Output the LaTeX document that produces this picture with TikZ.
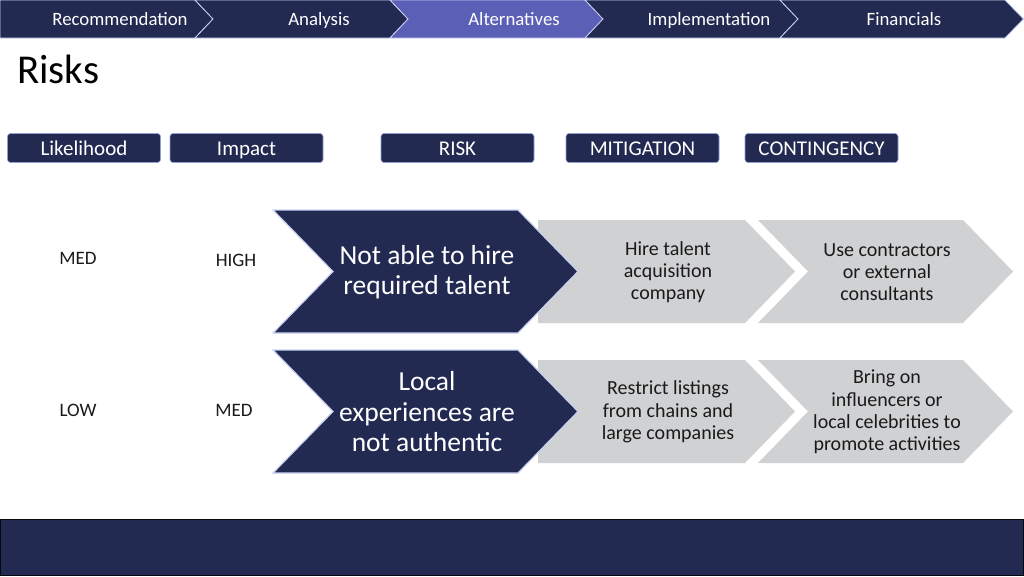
\documentclass[tikz,border=0pt]{standalone}
\usepackage{fontspec}
\setmainfont{Carlito}
\definecolor{navy}{HTML}{232A52}
\definecolor{hilite}{HTML}{5B5FB5}
\definecolor{chgray}{HTML}{D0D1D3}
\definecolor{edgeblue}{HTML}{C9D2F2}
\definecolor{boxedge}{HTML}{8FA0D2}
\definecolor{txt}{HTML}{1A1A1A}
\tikzset{
  tab/.style={fill=navy, draw=edgeblue, line width=0.8pt, line join=miter},
  tabon/.style={fill=hilite, draw=edgeblue, line width=0.8pt},
  tabtxt/.style={text=white, font=\fontsize{18.8}{22}\selectfont, anchor=center, text height=12pt, text depth=3pt, inner sep=0pt},
  hdr/.style={fill=navy, draw=boxedge, line width=0.6pt, rounded corners=3pt, minimum width=153pt, minimum height=29pt, text=white, font=\fontsize{21}{24}\selectfont, inner sep=0pt, text height=15.5pt, text depth=1.5pt},
  darkchev/.style={fill=navy, draw=edgeblue, line width=1.2pt, line join=miter},
  graychev/.style={fill=chgray, draw=none},
  darktxt/.style={text=white, align=center, font=\fontsize{27.5}{30.5}\selectfont},
  graytxt/.style={text=txt, align=center, font=\fontsize{20}{22.3}\selectfont},
  lvl/.style={text=txt, font=\fontsize{19}{22}\selectfont, inner sep=0pt, text height=12.5pt, text depth=0pt}
}
\begin{document}
\begin{tikzpicture}[x=1pt,y=-1pt]
\useasboundingbox (0,0) rectangle (1024,576);
\fill[white] (0,0) rectangle (1024,576);
% top navigation bar
\draw[tab] (0,0) -- (195,0) -- (213,19) -- (195,38) -- (0,38) -- cycle;
\draw[tab] (195,0) -- (390,0) -- (408,19) -- (390,38) -- (195,38) -- (213,19) -- cycle;
\draw[tabon] (390,0) -- (585,0) -- (603,19) -- (585,38) -- (390,38) -- (408,19) -- cycle;
\draw[tab] (585,0) -- (780,0) -- (798,19) -- (780,38) -- (585,38) -- (603,19) -- cycle;
\draw[tab] (780,0) -- (1005,0) -- (1023.5,19) -- (1005,38) -- (780,38) -- (798,19) -- cycle;
\node[tabtxt] (t1) at (120,21) {Recommendation};
\node[tabtxt] (t2) at (319,21) {Analysis};
\node[tabtxt] (t3) at (514,21) {Alternatives};
\node[tabtxt] (t4) at (709,21) {Implementation};
\node[tabtxt] (t5) at (904,21) {Financials};
% title
\node[anchor=west, text=black, font=\fontsize{41}{45}\selectfont, inner sep=0pt] (title) at (17,69) {Risks};
% headers
\node[hdr] (h1) at (84,148) {Likelihood};
\node[hdr] (h2) at (246.5,148) {Impact};
\node[hdr] (h3) at (457.5,148) {RISK};
\node[hdr] (h4) at (642.5,148) {MITIGATION};
\node[hdr] (h5) at (821.5,148) {CONTINGENCY};
% row 1
\fill[graychev] (758,220) -- (963,220) -- (1013,271.5) -- (963,323) -- (758,323) -- (808,271.5) -- cycle;
\fill[graychev] (538,220) -- (745,220) -- (795,271.5) -- (745,323) -- (538,323) -- cycle;
\draw[darkchev] (273,210) -- (518,210) -- (578,271.5) -- (518,333) -- (273,333) -- (333,271.5) -- cycle;
\node[darktxt] (r1) at (427,272) {Not able to hire\\required talent};
\node[graytxt] (m1) at (668,272) {Hire talent\\acquisition\\company};
\node[graytxt] (c1) at (887,272) {Use contractors\\or external\\consultants};
\node[lvl] (l1) at (78,258) {MED};
\node[lvl] (i1) at (236,260) {HIGH};
% row 2
\fill[graychev] (758,360) -- (963,360) -- (1013,411.5) -- (963,463) -- (758,463) -- (808,411.5) -- cycle;
\fill[graychev] (538,360) -- (745,360) -- (795,411.5) -- (745,463) -- (538,463) -- cycle;
\draw[darkchev] (273,350) -- (518,350) -- (578,411.5) -- (518,473) -- (273,473) -- (333,411.5) -- cycle;
\node[darktxt] (r2) at (427,412) {Local\\experiences are\\not authentic};
\node[graytxt] (m2) at (668,412) {Restrict listings\\from chains and\\large companies};
\node[graytxt] (c2) at (887,412) {Bring on\\influencers or\\local celebrities to\\promote activities};
\node[lvl] (l2) at (78,410) {LOW};
\node[lvl] (i2) at (234,410) {MED};
% bottom bar
\draw[fill=navy, draw=black!80!navy, line width=0.8pt] (0.5,519) rectangle (1023.5,575.5);
\end{tikzpicture}
\end{document}
